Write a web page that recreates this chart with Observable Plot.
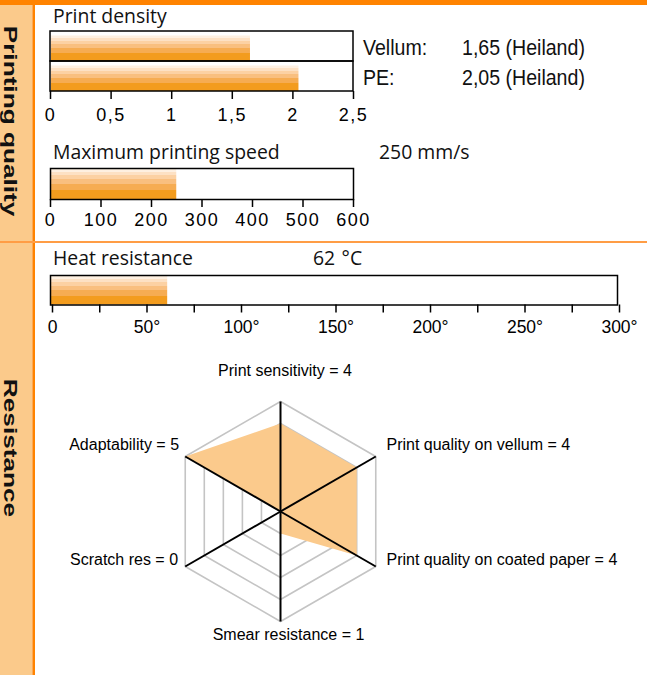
<!DOCTYPE html>
<html><head><meta charset="utf-8">
<script src="https://cdn.jsdelivr.net/npm/d3@7"></script>
<script src="https://cdn.jsdelivr.net/npm/@observablehq/plot@0.6"></script>
<style>
html,body{margin:0;padding:0;background:#fff;}
#page{position:relative;width:647px;height:675px;overflow:hidden;background:#fff;}
.abs{position:absolute;}
</style></head><body>
<div id="page">
  <div class="abs" style="left:0;top:0;width:32px;height:675px;background:#fbca8b"></div>
  <div class="abs" style="left:32px;top:0;width:1px;height:675px;background:#fdaa55"></div>
  <div class="abs" style="left:33px;top:0;width:2px;height:675px;background:#ff8300"></div>
  <div class="abs" style="left:0;top:0;width:647px;height:5px;background:#ff8300"></div>
  <div class="abs" style="left:0;top:241px;width:647px;height:1.5px;background:#ff9d45"></div>
  <div class="abs" id="density" style="left:30px;top:25px"></div>
  <div class="abs" id="speed" style="left:30px;top:160px"></div>
  <div class="abs" id="heat" style="left:30px;top:267px"></div>
  <div class="abs" id="radar" style="left:36px;top:350px"></div>
</div>
<script>
// ---- data ----
const densityLabels = ["Vellum", "PE"];
const densityValues = [1.65, 2.05];
const densitySources = ["Heiland", "Heiland"];
const densityTicks = [0, 0.5, 1, 1.5, 2, 2.5];
const speedValues = [250];
const speedUnit = "mm/s";
const speedTicks = [0, 100, 200, 300, 400, 500, 600];
const heatValues = [62];
const heatUnit = "°C";
const heatTicks = [0, 25, 50, 75, 100, 125, 150, 175, 200, 225, 250, 275, 300];
const radarAxes = ["Print sensitivity", "Print quality on vellum", "Print quality on coated paper", "Smear resistance", "Scratch res", "Adaptability"];
const radarValues = [4, 4, 4, 1, 0, 5];
const radarLevels = [1, 2, 3, 4, 5];

const comma = d => String(d).replace(".", ",");

function stripes(id) {
  return () => {
    const defs = d3.create("svg:defs");
    const g = defs.append("linearGradient").attr("id", id)
      .attr("x1", 0).attr("y1", 0).attr("x2", 0).attr("y2", 1);
    const bands = [[0, "#fef0e1"], [0.11, "#fde1c4"], [0.22, "#fcd1a3"], [0.35, "#f9bf7f"], [0.5, "#f6ac52"], [0.7, "#f39c1e"]];
    bands.forEach(([o, c], i) => {
      const end = i + 1 < bands.length ? bands[i + 1][0] : 1;
      g.append("stop").attr("offset", o).attr("stop-color", c);
      g.append("stop").attr("offset", end).attr("stop-color", c);
    });
    return defs.node();
  };
}

const axisStyle = {background: "transparent", overflow: "visible", fontFamily: "Liberation Sans", fontSize: "18px", color: "black", letterSpacing: "1.5px"};
const axisFont = {fontFamily: "Liberation Sans", fontSize: 18, fill: "black", stroke: "black", strokeWidth: 1.5};

// ---- print density ----
const densityData = densityLabels.map((label, i) => ({label, value: densityValues[i]}));
document.getElementById("density").append(Plot.plot({
  width: 343, height: 102, marginLeft: 20, marginRight: 20, marginTop: 6, marginBottom: 36,
  style: axisStyle,
  x: {domain: d3.extent(densityTicks), label: null},
  y: {domain: densityLabels, padding: 0, axis: null, label: null},
  marks: [
    stripes("stripesDensity"),
    Plot.barX(densityData, {x: "value", y: "label", fill: "url(#stripesDensity)", insetTop: 4.5, insetLeft: 1}),
    Plot.barX(densityData, {x: () => d3.max(densityTicks), y: "label", fill: "none", stroke: "black", strokeWidth: 1.5}),
    Plot.axisX({ticks: densityTicks, tickSize: 8, tickPadding: 8.5, tickFormat: comma, ...axisFont})
  ]
}));

// ---- speed ----
document.getElementById("speed").append(Plot.plot({
  width: 343, height: 75, marginLeft: 20, marginRight: 20, marginTop: 8, marginBottom: 36,
  style: axisStyle,
  x: {domain: d3.extent(speedTicks), label: null},
  marks: [
    stripes("stripesSpeed"),
    Plot.barX(speedValues, {x: d => d, fill: "url(#stripesSpeed)", insetTop: 0.75, insetLeft: 0.75}),
    Plot.frame({stroke: "black", strokeWidth: 1.5}),
    Plot.axisX({ticks: speedTicks, tickSize: 8, tickPadding: 6, ...axisFont})
  ]
}));

// ---- heat ----
document.getElementById("heat").append(Plot.plot({
  width: 617, height: 74, marginLeft: 20, marginRight: 30, marginTop: 8, marginBottom: 36.5,
  style: {...axisStyle, fontSize: "17.5px", letterSpacing: "0px"},
  x: {domain: d3.extent(heatTicks), label: null},
  marks: [
    stripes("stripesHeat"),
    Plot.barX(heatValues, {x: d => d, fill: "url(#stripesHeat)", insetTop: 0.75, insetLeft: 0.75}),
    Plot.frame({stroke: "black", strokeWidth: 1.5}),
    Plot.axisX({ticks: heatTicks, tickSize: 8, tickPadding: 8, dx: 2, ...axisFont, fontSize: 17.5,
      tickFormat: d => d % 50 ? "" : (d === 0 ? "0" : d + "°")})
  ]
}));

// ---- radar ----
const maxLevel = d3.max(radarLevels);
const radarR = 110, unit = radarR / maxLevel;
const rw = 611, rh = 320, rcx = 244, rcy = 161;
const ang = i => Math.PI / 2 - i * 2 * Math.PI / radarAxes.length;
const ringPts = radarLevels.flatMap(L => radarAxes.map((a, i) => ({level: L, x: L * Math.cos(ang(i)), y: L * Math.sin(ang(i))})));
const valuePts = radarValues.map((v, i) => ({x: v * Math.cos(ang(i)), y: v * Math.sin(ang(i))}));
const spokes = radarAxes.map((a, i) => ({x: maxLevel * Math.cos(ang(i)), y: maxLevel * Math.sin(ang(i))}));
const labelLayout = [[4.5, -31, "middle"], [10.7, -12, "start"], [10.7, -7, "start"], [8, 13, "middle"], [-7.2, -7, "end"], [-6.2, -12, "end"]];
const radarText = radarAxes.map((a, i) => ({
  text: `${a} = ${radarValues[i]}`,
  x: spokes[i].x + labelLayout[i][0] / unit,
  y: spokes[i].y - labelLayout[i][1] / unit,
  anchor: labelLayout[i][2]
}));
document.getElementById("radar").append(Plot.plot({
  width: rw, height: rh, margin: 0,
  style: {background: "transparent", overflow: "visible", fontFamily: "Liberation Sans", fontSize: "16px", color: "black"},
  x: {domain: [-rcx / unit, (rw - rcx) / unit], axis: null},
  y: {domain: [-(rh - rcy) / unit, rcy / unit], axis: null},
  marks: [
    Plot.line(ringPts, {x: "x", y: "y", z: "level", curve: "linear-closed", stroke: "#c4c4c4", strokeWidth: 1.6}),
    Plot.line(valuePts, {x: "x", y: "y", curve: "linear-closed", fill: "#fbca8c", stroke: "none"}),
    Plot.link(spokes, {x1: 0, y1: 0, x2: "x", y2: "y", stroke: "black", strokeWidth: 2}),
    ...["start", "middle", "end"].map(anchor =>
      Plot.text(radarText.filter(d => d.anchor === anchor), {x: "x", y: "y", text: "text", textAnchor: anchor, fill: "black", fontSize: 16, fontFamily: "Liberation Sans"}))
  ]
}));

// ---- overlay text ----
const overlay = d3.select("#page").append("svg")
  .attr("width", 647).attr("height", 675)
  .style("position", "absolute").style("left", 0).style("top", 0).style("pointer-events", "none");
const title = (x, y, t) => overlay.append("text").attr("x", x).attr("y", y)
  .style("font-family", "'Open Sans'").style("font-size", "19.4px").attr("fill", "#111").text(t);
title(53, 23, "Print density");
title(53, 159, "Maximum printing speed");
title(379, 159, `${speedValues[0]} ${speedUnit}`);
title(53, 265, "Heat resistance");
title(313, 265, `${heatValues[0]}\u2009\u2009${heatUnit}`);
densityLabels.forEach((l, i) => {
  const y = 55 + i * 29.5;
  overlay.append("text").attr("transform", `translate(363,${y}) scale(0.87,1)`)
    .style("font-family", "'Liberation Sans'").style("font-size", "22.5px").attr("fill", "#111").text(l + ":");
  overlay.append("text").attr("transform", `translate(462,${y}) scale(0.87,1)`)
    .style("font-family", "'Liberation Sans'").style("font-size", "22.5px").attr("fill", "#111")
    .text(`${comma(densityValues[i])} (${densitySources[i]})`);
});
const side = (cy, t) => overlay.append("text")
  .attr("transform", `translate(4,${cy}) rotate(90) scale(1.38,1)`)
  .attr("text-anchor", "middle")
  .style("font-family", "'Liberation Sans'").style("font-weight", "bold").style("font-size", "19px")
  .attr("fill", "#111").text(t);
side(121, "Printing quality");
side(448, "Resistance");
</script>
</body></html>
